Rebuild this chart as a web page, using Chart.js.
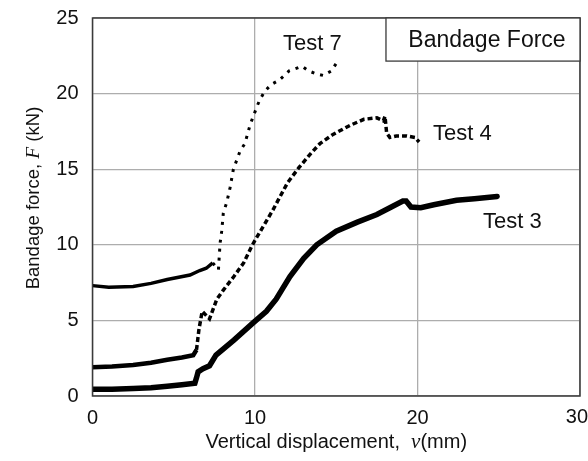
<!DOCTYPE html>
<html>
<head>
<meta charset="utf-8">
<script src="https://cdn.jsdelivr.net/npm/chart.js@4/dist/chart.umd.min.js"></script>
<style>
  html, body { margin: 0; padding: 0; background: #fff; }
  #wrap { width: 588px; height: 461px; position: relative; }
</style>
</head>
<body>
<div id="wrap"><canvas id="c" width="588" height="461"></canvas></div>
<script>
// ---- Data ----
const test3X = [0, 1.2, 2.5, 3.6, 4.6, 5.5, 6.3, 6.4, 6.5, 6.8, 7.2, 7.6, 8.7, 9.9, 10.7, 11.3, 12.15, 13.0, 13.8, 15.0, 16.3, 17.5, 18.3, 19.1, 19.3, 19.6, 20.2, 21.0, 22.4, 23.5, 24.9];
const test3Y = [0.45, 0.45, 0.5, 0.55, 0.65, 0.75, 0.85, 1.2, 1.6, 1.8, 2.0, 2.7, 3.7, 4.85, 5.6, 6.4, 7.9, 9.1, 10.0, 10.9, 11.5, 12.0, 12.45, 12.9, 12.9, 12.5, 12.45, 12.65, 12.95, 13.05, 13.2];

const test4X = [0, 1.2, 2.5, 3.6, 4.6, 5.5, 6.2, 6.4, 6.55, 6.75, 7.2, 7.65, 8.05, 8.7, 9.3, 9.8, 10.0, 10.5, 11.1, 11.4, 12.0, 12.7, 13.4, 14.0, 14.8, 15.85, 16.7, 17.5, 17.9, 18.0, 18.1, 18.3, 18.7, 19.3, 19.85, 20.1];
const test4Y = [1.9, 1.95, 2.05, 2.2, 2.4, 2.55, 2.7, 3.05, 4.4, 5.6, 5.1, 6.4, 7.0, 7.9, 8.8, 9.9, 10.3, 11.2, 12.3, 12.9, 14.1, 15.1, 16.0, 16.7, 17.3, 17.9, 18.3, 18.4, 18.2, 18.5, 17.4, 17.1, 17.2, 17.2, 17.1, 16.8];

const test7X = [0, 1.0, 2.5, 3.6, 4.6, 6.0, 6.6, 7.0, 7.4, 7.75, 7.85, 7.95, 8.05, 8.26, 8.46, 8.67, 9.08, 9.38, 9.69, 9.86, 10.14, 10.3, 10.6, 11.0, 11.5, 12.1, 12.9, 13.3, 13.8, 14.2, 14.7, 15.0, 15.3];
const test7Y = [7.3, 7.2, 7.25, 7.45, 7.7, 8.0, 8.3, 8.45, 8.8, 8.35, 10.1, 10.9, 12.1, 12.8, 13.75, 15.0, 16.2, 16.7, 17.9, 18.4, 19.2, 19.6, 20.15, 20.6, 20.9, 21.5, 21.8, 21.5, 21.3, 21.2, 21.5, 22.0, 21.9];

const xTicks = [0, 10, 20, 30];
const yTicks = [0, 5, 10, 15, 20, 25];

const seriesLabels = ['Test 3', 'Test 4', 'Test 7'];
// label anchor positions (data units): left edge x, vertical centre y
const labelX = [24.03, 20.95, 11.72];
const labelY = [11.5, 17.3, 23.3];
const legendTitle = 'Bandage Force';

const xTitleA = 'Vertical displacement,  ';
const xTitleVar = 'v';
const xTitleB = '(mm)';
const yTitleA = 'Bandage force, ';
const yTitleVar = 'F';
const yTitleB = ' (kN)';

// ---- helpers ----
const SANS = "'Liberation Sans', Arial, Helvetica, sans-serif";
const SERIF = "'Liberation Serif', 'Times New Roman', serif";
const X_MAX = xTicks[xTicks.length - 1];
function pts(xs, ys) { return xs.map((x, i) => ({ x: x, y: ys[i] })); }
function noPad(s) { s.paddingLeft = 0; s.paddingRight = 0; s.paddingTop = 0; s.paddingBottom = 0; }

const decor = {
  id: 'decor',
  afterDraw(chart) {
    const ctx = chart.ctx;
    const a = chart.chartArea;
    const xs = chart.scales.x, ys = chart.scales.y;
    ctx.save();
    // plot border
    ctx.strokeStyle = '#3a3a3a';
    ctx.lineWidth = 1.5;
    ctx.strokeRect(a.left, a.top, a.right - a.left, a.bottom - a.top);

    // last x tick label, kept inside the canvas (right-aligned)
    ctx.fillStyle = '#111';
    ctx.font = '20px ' + SANS;
    ctx.textAlign = 'right';
    ctx.textBaseline = 'middle';
    ctx.fillText(String(X_MAX), 588, 417);

    // legend box
    const bx = xs.getPixelForValue(18.06);
    const by = ys.getPixelForValue(22.15);
    ctx.fillStyle = '#fff';
    ctx.fillRect(bx, a.top, a.right - bx, by - a.top);
    ctx.strokeStyle = '#3a3a3a';
    ctx.lineWidth = 1.3;
    ctx.strokeRect(bx, a.top, a.right - bx, by - a.top);
    ctx.fillStyle = '#111';
    ctx.font = '23px ' + SANS;
    ctx.textAlign = 'center';
    ctx.textBaseline = 'middle';
    ctx.fillText(legendTitle, (bx + a.right) / 2 + 4, (a.top + by) / 2 + 1);

    // series labels
    ctx.textAlign = 'left';
    ctx.font = '22px ' + SANS;
    seriesLabels.forEach((t, i) => {
      ctx.fillText(t, xs.getPixelForValue(labelX[i]), ys.getPixelForValue(labelY[i]));
    });

    // x axis title
    const fA = '20px ' + SANS, fV = 'italic 21px ' + SERIF;
    ctx.font = fA; const wA = ctx.measureText(xTitleA).width; const wB = ctx.measureText(xTitleB).width;
    ctx.font = fV; const wV = ctx.measureText(xTitleVar).width;
    const total = wA + wV + wB;
    let cx = (a.left + a.right) / 2 - total / 2;
    const ty = 442;
    ctx.textAlign = 'left';
    ctx.textBaseline = 'middle';
    ctx.font = fA; ctx.fillText(xTitleA, cx, ty); cx += wA;
    ctx.font = fV; ctx.fillText(xTitleVar, cx, ty); cx += wV;
    ctx.font = fA; ctx.fillText(xTitleB, cx, ty);

    // y axis title (rotated)
    const gA = '18.5px ' + SANS, gV = 'italic 19.5px ' + SERIF;
    ctx.font = gA; const yA = ctx.measureText(yTitleA).width; const yB = ctx.measureText(yTitleB).width;
    ctx.font = gV; const yV = ctx.measureText(yTitleVar).width;
    const ytot = yA + yV + yB;
    ctx.textBaseline = 'alphabetic';
    ctx.translate(39, 198);
    ctx.rotate(-Math.PI / 2);
    let px = -ytot / 2;
    ctx.font = gA; ctx.fillText(yTitleA, px, 0); px += yA;
    ctx.font = gV; ctx.fillText(yTitleVar, px, 0); px += yV;
    ctx.font = gA; ctx.fillText(yTitleB, px, 0);
    ctx.restore();
  }
};

const ctx = document.getElementById('c').getContext('2d');
new Chart(ctx, {
  type: 'scatter',
  data: {
    datasets: [
      {
        label: seriesLabels[0],
        data: pts(test3X, test3Y),
        showLine: true,
        borderColor: '#000',
        borderWidth: 5.5,
        pointRadius: 0,
        tension: 0,
        borderCapStyle: 'round'
      },
      {
        label: seriesLabels[1],
        data: pts(test4X, test4Y),
        showLine: true,
        borderColor: '#000',
        borderWidth: 3.5,
        pointRadius: 0,
        tension: 0,
        segment: {
          borderDash: c => (c.p0.parsed.x < 6.3 ? [] : [5, 3]),
          borderWidth: c => (c.p0.parsed.x < 6.3 ? 4.5 : 3.5)
        }
      },
      {
        label: seriesLabels[2],
        data: pts(test7X, test7Y),
        showLine: true,
        borderColor: '#000',
        borderWidth: 3,
        pointRadius: 0,
        tension: 0,
        segment: {
          borderDash: c => (c.p0.parsed.x < 7.3 ? [] : [3, 6]),
          borderWidth: c => (c.p0.parsed.x < 7.3 ? 3.5 : 3)
        }
      }
    ]
  },
  options: {
    responsive: false,
    animation: false,
    events: [],
    layout: { padding: { top: 18, right: 8, bottom: 0, left: 0 } },
    plugins: { legend: { display: false }, tooltip: { enabled: false }, title: { display: false } },
    scales: {
      x: {
        type: 'linear', min: 0, max: X_MAX,
        afterBuildTicks: s => { s.ticks = xTicks.map(v => ({ value: v })); },
        afterFit: s => { s.height = 65; noPad(s); },
        grid: { color: '#adadad', lineWidth: 1.3, drawTicks: false },
        border: { display: false },
        ticks: {
          color: '#111', padding: 10, font: { family: SANS, size: 20 }, maxRotation: 0,
          callback: v => (v === X_MAX ? '' : String(v))
        }
      },
      y: {
        type: 'linear', min: 0, max: 25,
        afterBuildTicks: s => { s.ticks = yTicks.map(v => ({ value: v })); },
        afterFit: s => { s.width = 92.5; noPad(s); },
        grid: { color: '#adadad', lineWidth: 1.3, drawTicks: false },
        border: { display: false },
        ticks: { color: '#111', padding: 14, font: { family: SANS, size: 20 } }
      }
    }
  },
  plugins: [decor]
});
</script>
</body>
</html>
